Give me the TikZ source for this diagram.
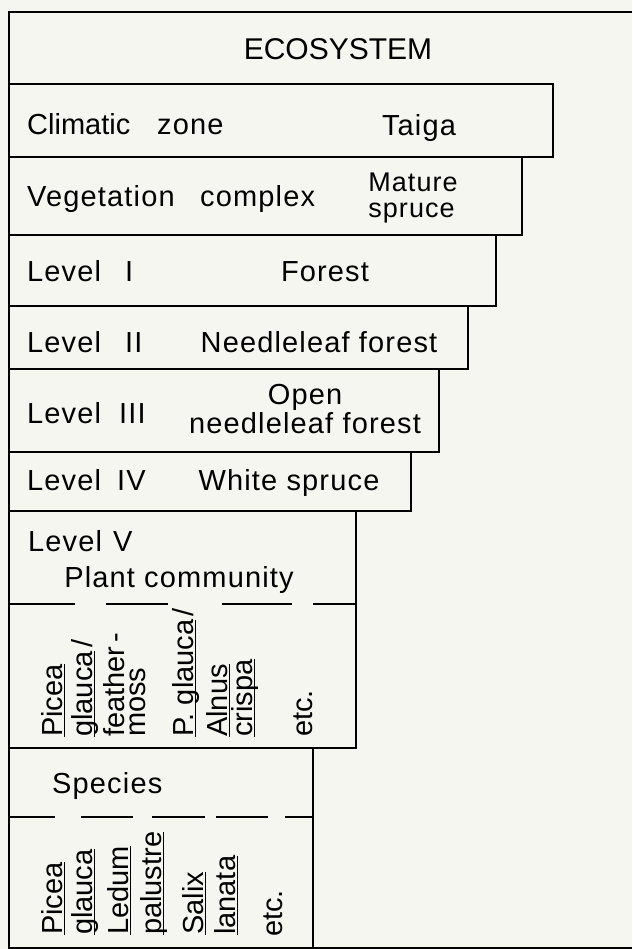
\documentclass[tikz,border=0pt]{standalone}
\usepackage{fontspec}
\setmainfont{Liberation Sans}
\newfontfamily\hfont{Liberation Sans}[LetterSpace=4]
\definecolor{paper}{RGB}{246,246,240}
\newsavebox\ulbox
\newcommand\myul[1]{\sbox\ulbox{#1}\rlap{\rule[-3.2pt]{\wd\ulbox}{1.5pt}}\usebox\ulbox}
\begin{document}
\begin{tikzpicture}[x=1pt,y=-1pt,
  lbl/.style={inner sep=0pt, font=\hfont\fontsize{29}{31}\selectfont},
  lblw/.style={lbl, anchor=base west},
  lblc/.style={lbl, anchor=base},
  vert/.style={inner sep=0pt, font=\fontsize{29}{31}\selectfont, rotate=90, anchor=base west},
  boxline/.style={draw=black, line width=1.6pt},
  dashseg/.style={draw=black, line width=1.6pt}]
\useasboundingbox (0,0) rectangle (632,949);
\fill[paper] (0,0) rectangle (632,949);
% outer frame
\draw[boxline] (632,12) -- (9,12) -- (9,948) -- (632,948);
% stepped boxes
\draw[boxline] (9,84) rectangle (553,157);
\draw[boxline] (9,157) rectangle (522,235);
\draw[boxline] (9,235) rectangle (496,306);
\draw[boxline] (9,306) rectangle (468,369);
\draw[boxline] (9,369) rectangle (439,452);
\draw[boxline] (9,452) rectangle (411,511);
\draw[boxline] (9,511) rectangle (356,748);
\draw[boxline] (9,748) rectangle (313,948);
% dashed separators
\foreach \a/\b in {9/75,106/168,222/292,313/356} \draw[dashseg] (\a,604) -- (\b,604);
\foreach \a/\b in {9/55,81/133,152/205,216/268,285/313} \draw[dashseg] (\a,817) -- (\b,817);
% texts
\node[lblc, font=\fontsize{30}{32}\selectfont] (eco) at (338,60) {ECOSYSTEM};
\node[lblw, font=\fontsize{29}{31}\selectfont] (clim) at (27,135) {Climatic};
\node[lblw] (zone) at (157,135) {zone};
\node[lblc] (taiga) at (419,136) {Taiga};
\node[lblw] (veg) at (27,207) {Vegetation};
\node[lblw] (cplx) at (200,207) {complex};
\node[lbl, align=left, font=\hfont\fontsize{27}{26}\selectfont] (mat) at (413,198) {Mature\\spruce};
\node[lblw] (l1) at (27,282) {Level\hspace{24pt}I};
\node[lblc] (forest) at (325,282) {Forest};
\node[lblw] (l2) at (27,352) {Level\hspace{24pt}II};
\node[lblc] (needle) at (319,352) {Needleleaf forest};
\node[lblw] (l3) at (27,423) {Level\hspace{18pt}III};
\node[lbl, align=center, font=\hfont\fontsize{29}{29}\selectfont] (open) at (305,409) {Open\\needleleaf forest};
\node[lblw] (l4) at (27,490) {Level\hspace{16pt}IV};
\node[lblc] (white) at (289,490) {White spruce};
\node[lblw] (l5) at (28,551) {Level\hspace{11pt}V};
\node[lblc] (plant) at (179,587) {Plant community};
\node[lblw] (spec) at (52,793) {Species};
% plant community examples
\node[vert] (pc1) at (62,737) {\myul{Picea}};
\node[vert] (pc2) at (92,737) {\myul{glauca}\hspace{4pt}/};
\node[vert] (pc3) at (124,737) {feather\hspace{4pt}-};
\node[vert] (pc4) at (145,737) {moss};
\node[vert] (pc5) at (193,737) {\myul{P. glauca}\hspace{3pt}/};
\node[vert] (pc6) at (227,737) {\myul{Alnus}};
\node[vert] (pc7) at (252,737) {\myul{crispa}};
\node[vert] (pc8) at (312,737) {etc.};
% species examples
\node[vert] (sp1) at (62,935) {\myul{Picea}};
\node[vert] (sp2) at (92,935) {\myul{glauca}};
\node[vert] (sp3) at (128,935) {\myul{Ledum}};
\node[vert] (sp4) at (161,935) {\myul{palustre}};
\node[vert] (sp5) at (203,935) {\myul{Salix}};
\node[vert] (sp6) at (235,935) {\myul{lanata}};
\node[vert] (sp7) at (282,937) {etc.};
\end{tikzpicture}
\end{document}
